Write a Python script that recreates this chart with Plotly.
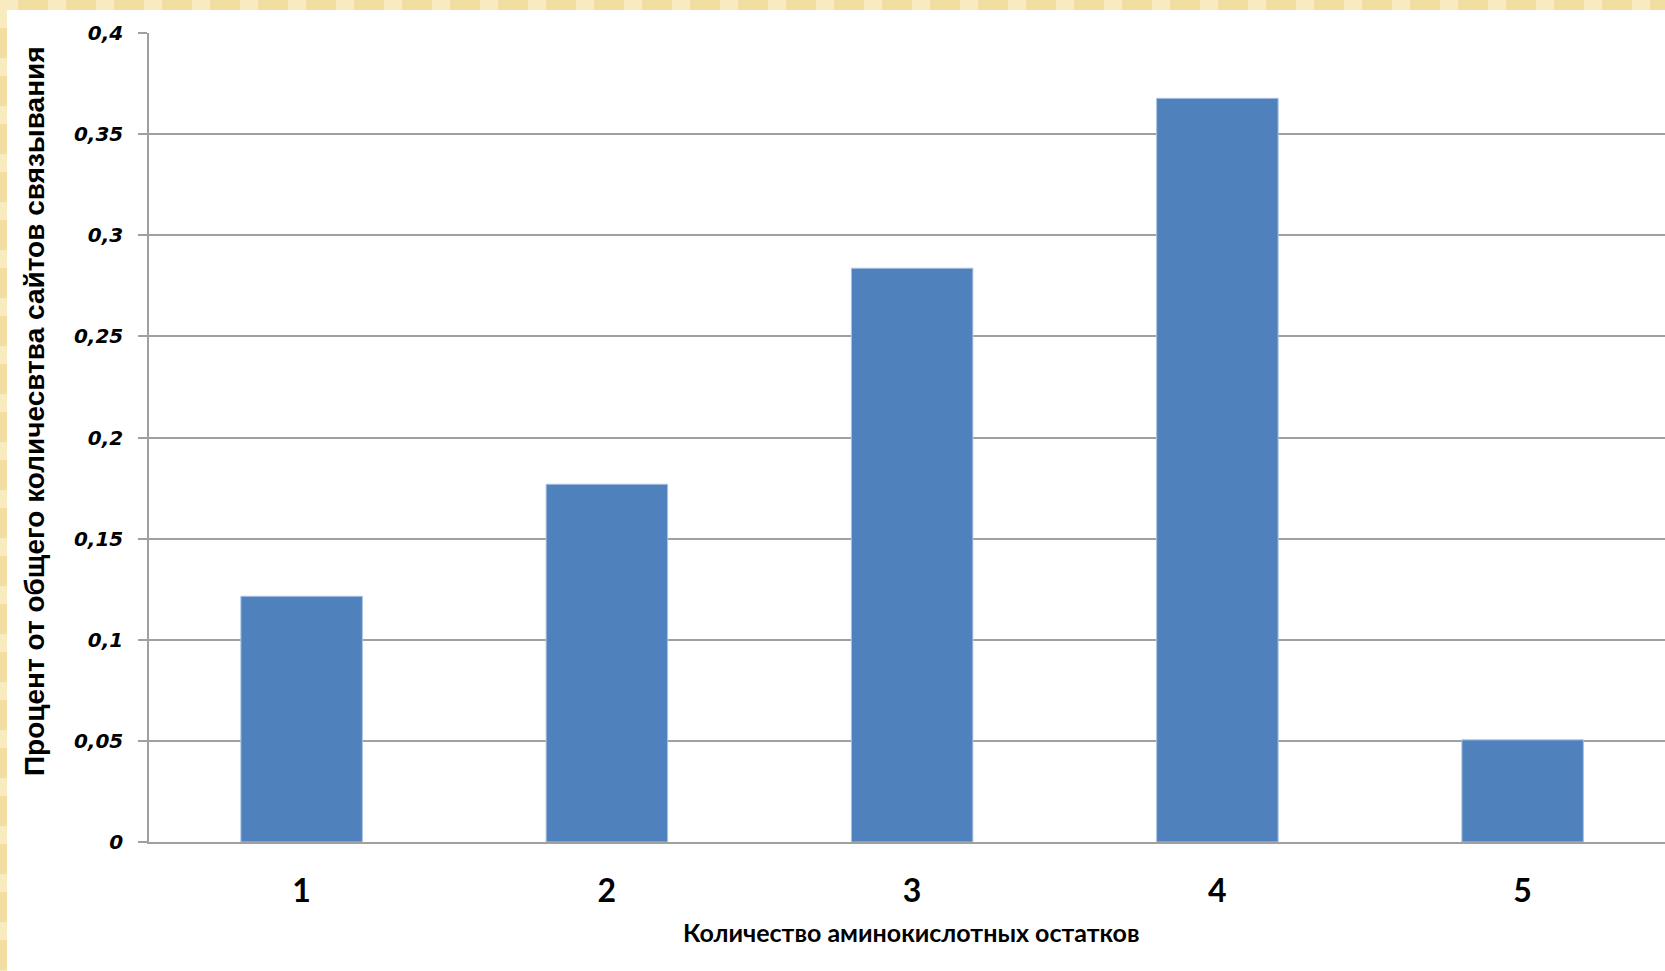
import plotly.graph_objects as go

categories = ["1", "2", "3", "4", "5"]
values = [0.1215, 0.1769, 0.2837, 0.3677, 0.0505]
y_tickvals = [0, 0.05, 0.1, 0.15, 0.2, 0.25, 0.3, 0.35, 0.4]
y_ticktext = ["0", "0,05", "0,1", "0,15", "0,2", "0,25", "0,3", "0,35", "0,4"]
x_title = "Количество аминокислотных остатков"
y_title = "Процент от общего количесвтва сайтов связывания"

W, H = 1665, 971
ML, MR, MT, MB = 149, 0, 33, 129
PW, PH = W - ML - MR, H - MT - MB

def px_x(px):
    return (px - ML) / PW

def px_y(py):
    return (H - MB - py) / PH

fig = go.Figure()
fig.add_trace(go.Bar(
    x=categories, y=values,
    marker=dict(color="#4F81BD", line=dict(color="#A9C2E3", width=1)),
))

gold = "#F2DEA0"
shapes = [
    dict(type="rect", xref="paper", yref="paper", layer="below",
         x0=px_x(0), x1=px_x(W), y0=px_y(0), y1=px_y(H),
         fillcolor=gold, line=dict(width=0)),
    dict(type="rect", xref="paper", yref="paper", layer="below",
         x0=px_x(7), x1=px_x(W), y0=px_y(10), y1=px_y(H),
         fillcolor="white", line=dict(width=0)),
]
for i in range(0, W, 48):
    shapes.append(dict(type="rect", xref="paper", yref="paper", layer="below",
                       x0=px_x(i), x1=px_x(i + 18), y0=px_y(0), y1=px_y(10),
                       fillcolor="#F8EBC0", line=dict(width=0)))
for j in range(10, H, 48):
    shapes.append(dict(type="rect", xref="paper", yref="paper", layer="below",
                       x0=px_x(0), x1=px_x(7), y0=px_y(j), y1=px_y(j + 18),
                       fillcolor="#F8EBC0", line=dict(width=0)))

fig.update_layout(
    width=W, height=H,
    margin=dict(l=ML, r=MR, t=MT, b=MB, pad=0),
    paper_bgcolor="white", plot_bgcolor="rgba(0,0,0,0)",
    bargap=0.602,
    showlegend=False,
    shapes=shapes,
    font=dict(family="Lato, Open Sans, sans-serif", color="black"),
    xaxis=dict(
        type="category",
        range=[-0.5, -0.5 + PW / 305.25],
        showgrid=False, zeroline=False,
        showline=True, linecolor="#A0A0A0", linewidth=1.5,
        ticks="", ticklabelstandoff=20,
        tickfont=dict(family="Lato", size=32, weight="bold", color="black"),
    ),
    yaxis=dict(
        range=[0, 0.4],
        tickvals=y_tickvals, ticktext=y_ticktext,
        showgrid=True, gridcolor="#A0A0A0", gridwidth=1.5,
        zeroline=False,
        showline=True, linecolor="#A0A0A0", linewidth=1.5,
        ticks="outside", ticklen=9, tickcolor="#A0A0A0", tickwidth=1.5,
        ticklabelstandoff=11,
        tickfont=dict(family="DejaVu Sans", size=20, weight="bold", style="italic", color="black"),
    ),
    annotations=[
        dict(text=x_title, xref="paper", yref="paper",
             x=px_x(911), y=px_y(932), xanchor="center", yanchor="middle",
             showarrow=False,
             font=dict(family="Lato", size=25, weight="bold", color="black")),
        dict(text=y_title, xref="paper", yref="paper",
             x=px_x(35), y=px_y(411), xanchor="center", yanchor="middle",
             textangle=-90, showarrow=False,
             font=dict(family="Liberation Sans, Arial", size=28, weight="bold", color="black")),
    ],
)

fig.write_html("out.html")
